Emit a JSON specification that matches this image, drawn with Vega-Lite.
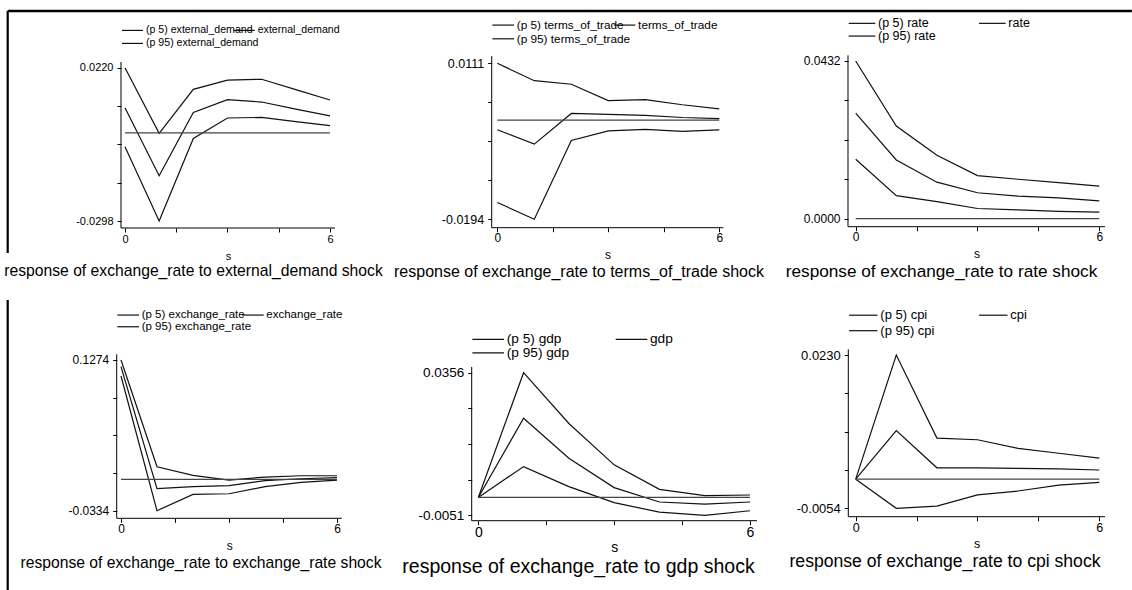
{
"$schema": "https://vega.github.io/schema/vega-lite/v6.json",
"background": "white",
"padding": 0,
"columns": 3,
"spacing": {"row": 35, "column": 0},
"bounds": "flush",
"align": "all",
"resolve": {"scale": {"color": "independent", "x": "independent", "y": "independent"}, "legend": {"color": "independent"}, "axis": {"x": "independent", "y": "independent"}},
"config": {
  "view": {"stroke": null},
  "font": "Liberation Sans",
  "axis": {"domain": false, "grid": false, "tickColor": "#000", "tickSize": 4, "tickWidth": 1, "labelColor": "#000", "titleColor": "#000", "labelFont": "Liberation Sans", "titleFont": "Liberation Sans", "titleFontWeight": "normal", "labelOverlap": false},
  "legend": {"labelFont": "Liberation Sans", "labelColor": "#000", "orient": "none", "symbolType": "stroke", "symbolStrokeWidth": 1.2, "labelOffset": 2, "padding": 0, "labelLimit": 400, "title": null},
  "title": {"font": "Liberation Sans", "fontWeight": "normal", "color": "#000"}
},
"datasets": {
  "ed": [
    {"s":0,"series":"(p 95) external_demand","v":0.0220},{"s":1,"series":"(p 95) external_demand","v":-0.0002},{"s":2,"series":"(p 95) external_demand","v":0.0147},{"s":3,"series":"(p 95) external_demand","v":0.0178},{"s":4,"series":"(p 95) external_demand","v":0.0181},{"s":5,"series":"(p 95) external_demand","v":0.0146},{"s":6,"series":"(p 95) external_demand","v":0.0111},
    {"s":0,"series":"external_demand","v":0.0085},{"s":1,"series":"external_demand","v":-0.0145},{"s":2,"series":"external_demand","v":0.0069},{"s":3,"series":"external_demand","v":0.0112},{"s":4,"series":"external_demand","v":0.0104},{"s":5,"series":"external_demand","v":0.0080},{"s":6,"series":"external_demand","v":0.0057},
    {"s":0,"series":"(p 5) external_demand","v":-0.0047},{"s":1,"series":"(p 5) external_demand","v":-0.0298},{"s":2,"series":"(p 5) external_demand","v":-0.0019},{"s":3,"series":"(p 5) external_demand","v":0.0050},{"s":4,"series":"(p 5) external_demand","v":0.0052},{"s":5,"series":"(p 5) external_demand","v":0.0038},{"s":6,"series":"(p 5) external_demand","v":0.0024}
  ],
  "tot": [
    {"s":0,"series":"(p 95) terms_of_trade","v":0.0111},{"s":1,"series":"(p 95) terms_of_trade","v":0.0077},{"s":2,"series":"(p 95) terms_of_trade","v":0.0070},{"s":3,"series":"(p 95) terms_of_trade","v":0.0038},{"s":4,"series":"(p 95) terms_of_trade","v":0.0040},{"s":5,"series":"(p 95) terms_of_trade","v":0.0030},{"s":6,"series":"(p 95) terms_of_trade","v":0.0022},
    {"s":0,"series":"terms_of_trade","v":-0.0019},{"s":1,"series":"terms_of_trade","v":-0.0047},{"s":2,"series":"terms_of_trade","v":0.0013},{"s":3,"series":"terms_of_trade","v":0.0011},{"s":4,"series":"terms_of_trade","v":0.0009},{"s":5,"series":"terms_of_trade","v":0.0005},{"s":6,"series":"terms_of_trade","v":0.0003},
    {"s":0,"series":"(p 5) terms_of_trade","v":-0.0161},{"s":1,"series":"(p 5) terms_of_trade","v":-0.0194},{"s":2,"series":"(p 5) terms_of_trade","v":-0.0040},{"s":3,"series":"(p 5) terms_of_trade","v":-0.0021},{"s":4,"series":"(p 5) terms_of_trade","v":-0.0018},{"s":5,"series":"(p 5) terms_of_trade","v":-0.0022},{"s":6,"series":"(p 5) terms_of_trade","v":-0.0019}
  ],
  "rate": [
    {"s":0,"series":"(p 95) rate","v":0.0432},{"s":1,"series":"(p 95) rate","v":0.0254},{"s":2,"series":"(p 95) rate","v":0.0174},{"s":3,"series":"(p 95) rate","v":0.0118},{"s":4,"series":"(p 95) rate","v":0.0108},{"s":5,"series":"(p 95) rate","v":0.0099},{"s":6,"series":"(p 95) rate","v":0.0089},
    {"s":0,"series":"rate","v":0.0289},{"s":1,"series":"rate","v":0.0161},{"s":2,"series":"rate","v":0.0100},{"s":3,"series":"rate","v":0.0071},{"s":4,"series":"rate","v":0.0062},{"s":5,"series":"rate","v":0.0057},{"s":6,"series":"rate","v":0.0049},
    {"s":0,"series":"(p 5) rate","v":0.0163},{"s":1,"series":"(p 5) rate","v":0.0063},{"s":2,"series":"(p 5) rate","v":0.0047},{"s":3,"series":"(p 5) rate","v":0.0028},{"s":4,"series":"(p 5) rate","v":0.0024},{"s":5,"series":"(p 5) rate","v":0.0020},{"s":6,"series":"(p 5) rate","v":0.0018}
  ],
  "er": [
    {"s":0,"series":"(p 95) exchange_rate","v":0.1274},{"s":1,"series":"(p 95) exchange_rate","v":0.0135},{"s":2,"series":"(p 95) exchange_rate","v":0.0043},{"s":3,"series":"(p 95) exchange_rate","v":-0.0007},{"s":4,"series":"(p 95) exchange_rate","v":0.0025},{"s":5,"series":"(p 95) exchange_rate","v":0.0039},{"s":6,"series":"(p 95) exchange_rate","v":0.0039},
    {"s":0,"series":"exchange_rate","v":0.1203},{"s":1,"series":"exchange_rate","v":-0.0099},{"s":2,"series":"exchange_rate","v":-0.0078},{"s":3,"series":"exchange_rate","v":-0.0067},{"s":4,"series":"exchange_rate","v":-0.0014},{"s":5,"series":"exchange_rate","v":0.0007},{"s":6,"series":"exchange_rate","v":0.0018},
    {"s":0,"series":"(p 5) exchange_rate","v":0.1103},{"s":1,"series":"(p 5) exchange_rate","v":-0.0334},{"s":2,"series":"(p 5) exchange_rate","v":-0.0160},{"s":3,"series":"(p 5) exchange_rate","v":-0.0153},{"s":4,"series":"(p 5) exchange_rate","v":-0.0078},{"s":5,"series":"(p 5) exchange_rate","v":-0.0032},{"s":6,"series":"(p 5) exchange_rate","v":-0.0007}
  ],
  "gdp": [
    {"s":0,"series":"(p 95) gdp","v":0},{"s":1,"series":"(p 95) gdp","v":0.0356},{"s":2,"series":"(p 95) gdp","v":0.0211},{"s":3,"series":"(p 95) gdp","v":0.0093},{"s":4,"series":"(p 95) gdp","v":0.0023},{"s":5,"series":"(p 95) gdp","v":0.0005},{"s":6,"series":"(p 95) gdp","v":0.0007},
    {"s":0,"series":"gdp","v":0},{"s":1,"series":"gdp","v":0.0226},{"s":2,"series":"gdp","v":0.0112},{"s":3,"series":"gdp","v":0.0028},{"s":4,"series":"gdp","v":-0.0013},{"s":5,"series":"gdp","v":-0.0019},{"s":6,"series":"gdp","v":-0.0013},
    {"s":0,"series":"(p 5) gdp","v":0},{"s":1,"series":"(p 5) gdp","v":0.0088},{"s":2,"series":"(p 5) gdp","v":0.0031},{"s":3,"series":"(p 5) gdp","v":-0.0015},{"s":4,"series":"(p 5) gdp","v":-0.0042},{"s":5,"series":"(p 5) gdp","v":-0.0051},{"s":6,"series":"(p 5) gdp","v":-0.0038}
  ],
  "cpi": [
    {"s":0,"series":"(p 95) cpi","v":0},{"s":1,"series":"(p 95) cpi","v":0.0230},{"s":2,"series":"(p 95) cpi","v":0.0076},{"s":3,"series":"(p 95) cpi","v":0.0073},{"s":4,"series":"(p 95) cpi","v":0.0057},{"s":5,"series":"(p 95) cpi","v":0.0048},{"s":6,"series":"(p 95) cpi","v":0.0039},
    {"s":0,"series":"cpi","v":0},{"s":1,"series":"cpi","v":0.0090},{"s":2,"series":"cpi","v":0.0021},{"s":3,"series":"cpi","v":0.0021},{"s":4,"series":"cpi","v":0.0020},{"s":5,"series":"cpi","v":0.0019},{"s":6,"series":"cpi","v":0.0017},
    {"s":0,"series":"(p 5) cpi","v":0},{"s":1,"series":"(p 5) cpi","v":-0.0054},{"s":2,"series":"(p 5) cpi","v":-0.0050},{"s":3,"series":"(p 5) cpi","v":-0.0029},{"s":4,"series":"(p 5) cpi","v":-0.0022},{"s":5,"series":"(p 5) cpi","v":-0.0011},{"s":6,"series":"(p 5) cpi","v":-0.0006}
  ]
},
"concat": [
{
  "width": 377, "height": 255,
  "title": {"text": "response of exchange_rate to external_demand shock", "orient": "bottom", "anchor": "middle", "frame": "group", "dx": 5, "offset": 3, "fontSize": 15.7},
  "layer": [
    {"data": {"name": "ed"}, "transform": [{"filter": "datum.series == '(p 5) external_demand'"}], "mark": {"type": "line", "strokeWidth": 1.2},
     "encoding": {
       "x": {"field": "s", "type": "quantitative", "scale": {"domain": [-3.658, 7.376], "nice": false, "zero": false},
             "axis": {"values": [0,1.5,3,4.5,6], "labelExpr": "datum.value == 0 || datum.value == 6 ? datum.label : ''", "offset": -27, "title": "s", "titleX": 228, "titleY": 31, "titleBaseline": "alphabetic", "labelFontSize": 11, "titleFontSize": 11, "labelPadding": 1}},
       "y": {"field": "v", "type": "quantitative", "scale": {"domain": [-0.041288, 0.044876], "nice": false, "zero": false},
             "axis": {"values": [-0.0298, -0.01685, -0.0039, 0.00905, 0.022], "labelExpr": "datum.value == 0.022 ? '0.0220' : datum.value == -0.0298 ? '-0.0298' : ''", "offset": -121, "title": null, "labelFontSize": 11, "labelPadding": 4}},
       "color": {"field": "series", "type": "nominal", "scale": {"range": ["#111"]}, "legend": {"legendX": 121, "legendY": 18.9, "symbolSize": 441, "labelFontSize": 10.6}}}},
    {"data": {"name": "ed"}, "transform": [{"filter": "datum.series == 'external_demand'"}], "mark": {"type": "line", "strokeWidth": 1.2},
     "encoding": {
       "x": {"field": "s", "type": "quantitative", "scale": {"domain": [-3.658, 7.376], "nice": false, "zero": false}},
       "y": {"field": "v", "type": "quantitative", "scale": {"domain": [-0.041288, 0.044876], "nice": false, "zero": false}},
       "color": {"field": "series", "type": "nominal", "scale": {"range": ["#111"]}, "legend": {"legendX": 232.7, "legendY": 18.9, "symbolSize": 441, "labelFontSize": 10.6}}}},
    {"data": {"name": "ed"}, "transform": [{"filter": "datum.series == '(p 95) external_demand'"}], "mark": {"type": "line", "strokeWidth": 1.2},
     "encoding": {
       "x": {"field": "s", "type": "quantitative", "scale": {"domain": [-3.658, 7.376], "nice": false, "zero": false}},
       "y": {"field": "v", "type": "quantitative", "scale": {"domain": [-0.041288, 0.044876], "nice": false, "zero": false}},
       "color": {"field": "series", "type": "nominal", "scale": {"range": ["#111"]}, "legend": {"legendX": 121, "legendY": 31.9, "symbolSize": 441, "labelFontSize": 10.6}}}},
    {"data": {"values": [{}]}, "mark": {"type": "rule", "color": "#444", "strokeWidth": 1.2}, "encoding": {"x": {"datum": 0}, "x2": {"datum": 6}, "y": {"datum": 0}}},
    {"data": {"values": [{}]}, "mark": {"type": "rule", "color": "#000", "strokeWidth": 1}, "encoding": {"x": {"datum": -0.117}, "y": {"datum": 0.023926}, "y2": {"datum": -0.032164}}},
    {"data": {"values": [{}]}, "mark": {"type": "rule", "color": "#000", "strokeWidth": 1}, "encoding": {"x": {"datum": -0.117}, "x2": {"datum": 6.146}, "y": {"datum": -0.032164}}},
    {"data": {"values": [{}]}, "mark": {"type": "rule", "color": "#000", "strokeWidth": 2.5}, "encoding": {"x": {"datum": -3.4328}, "x2": {"datum": 29.47}, "y": {"datum": 0.041159}}},
    {"data": {"values": [{}]}, "mark": {"type": "rule", "color": "#000", "strokeWidth": 2.2}, "encoding": {"x": {"datum": -3.4328}, "y": {"datum": 0.041159}, "y2": {"datum": -0.040612}}}
  ],
  "resolve": {"scale": {"color": "independent"}, "legend": {"color": "independent"}}
},
{
  "width": 377, "height": 255,
  "title": {"text": "response of exchange_rate to terms_of_trade shock", "orient": "bottom", "anchor": "middle", "frame": "group", "dx": 13.5, "offset": 3, "fontSize": 16},
  "layer": [
    {"data": {"name": "tot"}, "transform": [{"filter": "datum.series == '(p 5) terms_of_trade'"}], "mark": {"type": "line", "strokeWidth": 1.2},
     "encoding": {
       "x": {"field": "s", "type": "quantitative", "scale": {"domain": [-3.2514, 6.9378], "nice": false, "zero": false},
             "axis": {"values": [0,1.5,3,4.5,6], "labelExpr": "datum.value == 0 || datum.value == 6 ? datum.label : ''", "offset": -27.3, "title": "s", "titleX": 230.5, "titleY": 31, "titleBaseline": "alphabetic", "labelFontSize": 12, "titleFontSize": 12, "labelPadding": 1}},
       "y": {"field": "v", "type": "quantitative", "scale": {"domain": [-0.02638, 0.023476], "nice": false, "zero": false},
             "axis": {"values": [-0.0194, -0.011775, -0.00415, 0.003475, 0.0111], "labelExpr": "datum.value == 0.0111 ? '0.0111' : datum.value == -0.0194 ? '-0.0194' : ''", "offset": -114.7, "title": null, "labelFontSize": 12.5, "labelPadding": 4}},
       "color": {"field": "series", "type": "nominal", "scale": {"range": ["#111"]}, "legend": {"legendX": 114.7, "legendY": 13.6, "symbolSize": 467, "labelFontSize": 11.8}}}},
    {"data": {"name": "tot"}, "transform": [{"filter": "datum.series == 'terms_of_trade'"}], "mark": {"type": "line", "strokeWidth": 1.2},
     "encoding": {
       "x": {"field": "s", "type": "quantitative", "scale": {"domain": [-3.2514, 6.9378], "nice": false, "zero": false}},
       "y": {"field": "v", "type": "quantitative", "scale": {"domain": [-0.02638, 0.023476], "nice": false, "zero": false}},
       "color": {"field": "series", "type": "nominal", "scale": {"range": ["#111"]}, "legend": {"legendX": 236.1, "legendY": 13.6, "symbolSize": 467, "labelFontSize": 11.8}}}},
    {"data": {"name": "tot"}, "transform": [{"filter": "datum.series == '(p 95) terms_of_trade'"}], "mark": {"type": "line", "strokeWidth": 1.2},
     "encoding": {
       "x": {"field": "s", "type": "quantitative", "scale": {"domain": [-3.2514, 6.9378], "nice": false, "zero": false}},
       "y": {"field": "v", "type": "quantitative", "scale": {"domain": [-0.02638, 0.023476], "nice": false, "zero": false}},
       "color": {"field": "series", "type": "nominal", "scale": {"range": ["#111"]}, "legend": {"legendX": 114.7, "legendY": 27.3, "symbolSize": 467, "labelFontSize": 11.8}}}},
    {"data": {"values": [{}]}, "mark": {"type": "rule", "color": "#444", "strokeWidth": 1.2}, "encoding": {"x": {"datum": 0}, "x2": {"datum": 6}, "y": {"datum": 0}}},
    {"data": {"values": [{}]}, "mark": {"type": "rule", "color": "#000", "strokeWidth": 1}, "encoding": {"x": {"datum": -0.1514}, "y": {"datum": 0.0125}, "y2": {"datum": -0.021042}}},
    {"data": {"values": [{}]}, "mark": {"type": "rule", "color": "#000", "strokeWidth": 1}, "encoding": {"x": {"datum": -0.1514}, "x2": {"datum": 6.108}, "y": {"datum": -0.021042}}}
  ],
  "resolve": {"scale": {"color": "independent"}, "legend": {"color": "independent"}}
},
{
  "width": 377, "height": 255,
  "title": {"text": "response of exchange_rate to rate shock", "orient": "bottom", "anchor": "middle", "frame": "group", "dx": -1, "offset": 3, "fontSize": 17.2},
  "layer": [
    {"data": {"name": "rate"}, "transform": [{"filter": "datum.series == '(p 5) rate'"}], "mark": {"type": "line", "strokeWidth": 1.2},
     "encoding": {
       "x": {"field": "s", "type": "quantitative", "scale": {"domain": [-2.5049, 6.7808], "nice": false, "zero": false},
             "axis": {"values": [0,1.5,3,4.5,6], "labelExpr": "datum.value == 0 || datum.value == 6 ? datum.label : ''", "offset": -28.3, "title": "s", "titleX": 222.5, "titleY": 31, "titleBaseline": "alphabetic", "labelFontSize": 12, "titleFontSize": 12, "labelPadding": 1}},
       "y": {"field": "v", "type": "quantitative", "scale": {"domain": [-0.009944, 0.05991], "nice": false, "zero": false},
             "axis": {"values": [0, 0.0108, 0.0216, 0.0324, 0.0432], "labelExpr": "datum.value == 0.0432 ? '0.0432' : datum.value == 0 ? '0.0000' : ''", "offset": -94, "title": null, "labelFontSize": 12, "labelPadding": 4}},
       "color": {"field": "series", "type": "nominal", "scale": {"range": ["#111"]}, "legend": {"legendX": 94, "legendY": 9.35, "symbolSize": 713, "labelFontSize": 12.5}}}},
    {"data": {"name": "rate"}, "transform": [{"filter": "datum.series == 'rate'"}], "mark": {"type": "line", "strokeWidth": 1.2},
     "encoding": {
       "x": {"field": "s", "type": "quantitative", "scale": {"domain": [-2.5049, 6.7808], "nice": false, "zero": false}},
       "y": {"field": "v", "type": "quantitative", "scale": {"domain": [-0.009944, 0.05991], "nice": false, "zero": false}},
       "color": {"field": "series", "type": "nominal", "scale": {"range": ["#111"]}, "legend": {"legendX": 224.3, "legendY": 9.35, "symbolSize": 713, "labelFontSize": 12.5}}}},
    {"data": {"name": "rate"}, "transform": [{"filter": "datum.series == '(p 95) rate'"}], "mark": {"type": "line", "strokeWidth": 1.2},
     "encoding": {
       "x": {"field": "s", "type": "quantitative", "scale": {"domain": [-2.5049, 6.7808], "nice": false, "zero": false}},
       "y": {"field": "v", "type": "quantitative", "scale": {"domain": [-0.009944, 0.05991], "nice": false, "zero": false}},
       "color": {"field": "series", "type": "nominal", "scale": {"range": ["#111"]}, "legend": {"legendX": 94, "legendY": 22.05, "symbolSize": 713, "labelFontSize": 12.5}}}},
    {"data": {"values": [{}]}, "mark": {"type": "rule", "color": "#444", "strokeWidth": 1.2}, "encoding": {"x": {"datum": 0}, "x2": {"datum": 6}, "y": {"datum": 0}}},
    {"data": {"values": [{}]}, "mark": {"type": "rule", "color": "#000", "strokeWidth": 1}, "encoding": {"x": {"datum": -0.1897}, "y": {"datum": 0.044761}, "y2": {"datum": -0.002192}}},
    {"data": {"values": [{}]}, "mark": {"type": "rule", "color": "#000", "strokeWidth": 1}, "encoding": {"x": {"datum": -0.1897}, "x2": {"datum": 6.1404}, "y": {"datum": -0.002192}}}
  ],
  "resolve": {"scale": {"color": "independent"}, "legend": {"color": "independent"}}
},
{
  "width": 377, "height": 255,
  "title": {"text": "response of exchange_rate to exchange_rate shock", "orient": "bottom", "anchor": "middle", "frame": "group", "dx": 12.5, "offset": -35.5, "fontSize": 15.7},
  "layer": [
    {"data": {"name": "er"}, "transform": [{"filter": "datum.series == '(p 5) exchange_rate'"}], "mark": {"type": "line", "strokeWidth": 1.2},
     "encoding": {
       "x": {"field": "s", "type": "quantitative", "scale": {"domain": [-3.3611, 7.1111], "nice": false, "zero": false},
             "axis": {"values": [0,1.5,3,4.5,6], "labelExpr": "datum.value == 0 || datum.value == 6 ? datum.label : ''", "offset": -26.7, "title": "s", "titleX": 229.2, "titleY": 31, "titleBaseline": "alphabetic", "labelFontSize": 12, "titleFontSize": 12, "labelPadding": 1}},
       "y": {"field": "v", "type": "quantitative", "scale": {"domain": [-0.069999, 0.202091], "nice": false, "zero": false},
             "axis": {"values": [-0.0334, 0.0068, 0.047, 0.0872, 0.1274], "labelExpr": "datum.value == 0.1274 ? '0.1274' : datum.value == -0.0334 ? '-0.0334' : ''", "offset": -116.7, "title": null, "labelFontSize": 12, "labelPadding": 4}},
       "color": {"field": "series", "type": "nominal", "scale": {"range": ["#111"]}, "legend": {"legendX": 116.7, "legendY": 13.55, "symbolSize": 471, "labelFontSize": 11.5}}}},
    {"data": {"name": "er"}, "transform": [{"filter": "datum.series == 'exchange_rate'"}], "mark": {"type": "line", "strokeWidth": 1.2},
     "encoding": {
       "x": {"field": "s", "type": "quantitative", "scale": {"domain": [-3.3611, 7.1111], "nice": false, "zero": false}},
       "y": {"field": "v", "type": "quantitative", "scale": {"domain": [-0.069999, 0.202091], "nice": false, "zero": false}},
       "color": {"field": "series", "type": "nominal", "scale": {"range": ["#111"]}, "legend": {"legendX": 241.3, "legendY": 13.55, "symbolSize": 471, "labelFontSize": 11.5}}}},
    {"data": {"name": "er"}, "transform": [{"filter": "datum.series == '(p 95) exchange_rate'"}], "mark": {"type": "line", "strokeWidth": 1.2},
     "encoding": {
       "x": {"field": "s", "type": "quantitative", "scale": {"domain": [-3.3611, 7.1111], "nice": false, "zero": false}},
       "y": {"field": "v", "type": "quantitative", "scale": {"domain": [-0.069999, 0.202091], "nice": false, "zero": false}},
       "color": {"field": "series", "type": "nominal", "scale": {"range": ["#111"]}, "legend": {"legendX": 116.7, "legendY": 25.25, "symbolSize": 471, "labelFontSize": 11.5}}}},
    {"data": {"values": [{}]}, "mark": {"type": "rule", "color": "#444", "strokeWidth": 1.2}, "encoding": {"x": {"datum": 0}, "x2": {"datum": 6}, "y": {"datum": 0}}},
    {"data": {"values": [{}]}, "mark": {"type": "rule", "color": "#000", "strokeWidth": 1}, "encoding": {"x": {"datum": -0.1194}, "y": {"datum": 0.133482}, "y2": {"datum": -0.041509}}},
    {"data": {"values": [{}]}, "mark": {"type": "rule", "color": "#000", "strokeWidth": 1}, "encoding": {"x": {"datum": -0.1194}, "x2": {"datum": 6.1306}, "y": {"datum": -0.041509}}},
    {"data": {"values": [{}]}, "mark": {"type": "rule", "color": "#000", "strokeWidth": 2.2}, "encoding": {"x": {"datum": -3.1472}, "y": {"datum": 0.191422}, "y2": {"datum": -0.118015}}}
  ],
  "resolve": {"scale": {"color": "independent"}, "legend": {"color": "independent"}}
},
{
  "width": 377, "height": 255,
  "title": {"text": "response of exchange_rate to gdp shock", "orient": "bottom", "anchor": "middle", "frame": "group", "dx": 13, "offset": 3, "fontSize": 19.5},
  "layer": [
    {"data": {"name": "gdp"}, "transform": [{"filter": "datum.series == '(p 5) gdp'"}], "mark": {"type": "line", "strokeWidth": 1.2},
     "encoding": {
       "x": {"field": "s", "type": "quantitative", "scale": {"domain": [-2.237, 6.0883], "nice": false, "zero": false},
             "axis": {"values": [0,1.5,3,4.5,6], "labelExpr": "datum.value == 0 || datum.value == 6 ? datum.label : ''", "offset": -24.3, "title": "s", "titleX": 237.3, "titleY": 31, "titleBaseline": "alphabetic", "labelFontSize": 14, "titleFontSize": 14, "labelPadding": 1}},
       "y": {"field": "v", "type": "quantitative", "scale": {"domain": [-0.013577, 0.059204], "nice": false, "zero": false},
             "axis": {"values": [-0.0051, 0.005075, 0.01525, 0.025425, 0.0356], "labelExpr": "datum.value == 0.0356 ? '0.0356' : datum.value == -0.0051 ? '-0.0051' : ''", "offset": -94.7, "title": null, "labelFontSize": 13.5, "labelPadding": 4}},
       "color": {"field": "series", "type": "nominal", "scale": {"range": ["#111"]}, "legend": {"legendX": 94.7, "legendY": 32.9, "symbolSize": 999, "labelFontSize": 13.7}}}},
    {"data": {"name": "gdp"}, "transform": [{"filter": "datum.series == 'gdp'"}], "mark": {"type": "line", "strokeWidth": 1.2},
     "encoding": {
       "x": {"field": "s", "type": "quantitative", "scale": {"domain": [-2.237, 6.0883], "nice": false, "zero": false}},
       "y": {"field": "v", "type": "quantitative", "scale": {"domain": [-0.013577, 0.059204], "nice": false, "zero": false}},
       "color": {"field": "series", "type": "nominal", "scale": {"range": ["#111"]}, "legend": {"legendX": 238, "legendY": 32.9, "symbolSize": 999, "labelFontSize": 13.7}}}},
    {"data": {"name": "gdp"}, "transform": [{"filter": "datum.series == '(p 95) gdp'"}], "mark": {"type": "line", "strokeWidth": 1.2},
     "encoding": {
       "x": {"field": "s", "type": "quantitative", "scale": {"domain": [-2.237, 6.0883], "nice": false, "zero": false}},
       "y": {"field": "v", "type": "quantitative", "scale": {"domain": [-0.013577, 0.059204], "nice": false, "zero": false}},
       "color": {"field": "series", "type": "nominal", "scale": {"range": ["#111"]}, "legend": {"legendX": 94.7, "legendY": 46.3, "symbolSize": 999, "labelFontSize": 13.7}}}},
    {"data": {"values": [{}]}, "mark": {"type": "rule", "color": "#444", "strokeWidth": 1.2}, "encoding": {"x": {"datum": 0}, "x2": {"datum": 6}, "y": {"datum": 0}}},
    {"data": {"values": [{}]}, "mark": {"type": "rule", "color": "#000", "strokeWidth": 1}, "encoding": {"x": {"datum": -0.1458}, "y": {"datum": 0.037227}, "y2": {"datum": -0.006641}}},
    {"data": {"values": [{}]}, "mark": {"type": "rule", "color": "#000", "strokeWidth": 1}, "encoding": {"x": {"datum": -0.1458}, "x2": {"datum": 6.1546}, "y": {"datum": -0.006641}}}
  ],
  "resolve": {"scale": {"color": "independent"}, "legend": {"color": "independent"}}
},
{
  "width": 377, "height": 255,
  "title": {"text": "response of exchange_rate to cpi shock", "orient": "bottom", "anchor": "middle", "frame": "group", "dx": 2.5, "offset": 3, "fontSize": 17.6},
  "layer": [
    {"data": {"name": "cpi"}, "transform": [{"filter": "datum.series == '(p 5) cpi'"}], "mark": {"type": "line", "strokeWidth": 1.2},
     "encoding": {
       "x": {"field": "s", "type": "quantitative", "scale": {"domain": [-2.5049, 6.7808], "nice": false, "zero": false},
             "axis": {"values": [0,1.5,3,4.5,6], "labelExpr": "datum.value == 0 || datum.value == 6 ? datum.label : ''", "offset": -28.3, "title": "s", "titleX": 222.7, "titleY": 31, "titleBaseline": "alphabetic", "labelFontSize": 12.5, "titleFontSize": 12.5, "labelPadding": 1}},
       "y": {"field": "v", "type": "quantitative", "scale": {"domain": [-0.012199, 0.035042], "nice": false, "zero": false},
             "axis": {"values": [-0.0054, 0.0017, 0.0088, 0.0159, 0.023], "labelExpr": "datum.value == 0.023 ? '0.0230' : datum.value == -0.0054 ? '-0.0054' : ''", "offset": -94.3, "title": null, "labelFontSize": 13, "labelPadding": 4}},
       "color": {"field": "series", "type": "nominal", "scale": {"range": ["#111"]}, "legend": {"legendX": 94.3, "legendY": 10.2, "symbolSize": 807, "labelFontSize": 13}}}},
    {"data": {"name": "cpi"}, "transform": [{"filter": "datum.series == 'cpi'"}], "mark": {"type": "line", "strokeWidth": 1.2},
     "encoding": {
       "x": {"field": "s", "type": "quantitative", "scale": {"domain": [-2.5049, 6.7808], "nice": false, "zero": false}},
       "y": {"field": "v", "type": "quantitative", "scale": {"domain": [-0.012199, 0.035042], "nice": false, "zero": false}},
       "color": {"field": "series", "type": "nominal", "scale": {"range": ["#111"]}, "legend": {"legendX": 224.3, "legendY": 10.2, "symbolSize": 807, "labelFontSize": 13}}}},
    {"data": {"name": "cpi"}, "transform": [{"filter": "datum.series == '(p 95) cpi'"}], "mark": {"type": "line", "strokeWidth": 1.2},
     "encoding": {
       "x": {"field": "s", "type": "quantitative", "scale": {"domain": [-2.5049, 6.7808], "nice": false, "zero": false}},
       "y": {"field": "v", "type": "quantitative", "scale": {"domain": [-0.012199, 0.035042], "nice": false, "zero": false}},
       "color": {"field": "series", "type": "nominal", "scale": {"range": ["#111"]}, "legend": {"legendX": 94.3, "legendY": 25.7, "symbolSize": 807, "labelFontSize": 13}}}},
    {"data": {"values": [{}]}, "mark": {"type": "rule", "color": "#444", "strokeWidth": 1.2}, "encoding": {"x": {"datum": 0}, "x2": {"datum": 6}, "y": {"datum": 0}}},
    {"data": {"values": [{}]}, "mark": {"type": "rule", "color": "#000", "strokeWidth": 1}, "encoding": {"x": {"datum": -0.1823}, "y": {"datum": 0.024056}, "y2": {"datum": -0.006956}}},
    {"data": {"values": [{}]}, "mark": {"type": "rule", "color": "#000", "strokeWidth": 1}, "encoding": {"x": {"datum": -0.1823}, "x2": {"datum": 6.1404}, "y": {"datum": -0.006956}}}
  ],
  "resolve": {"scale": {"color": "independent"}, "legend": {"color": "independent"}}
}
]
}
